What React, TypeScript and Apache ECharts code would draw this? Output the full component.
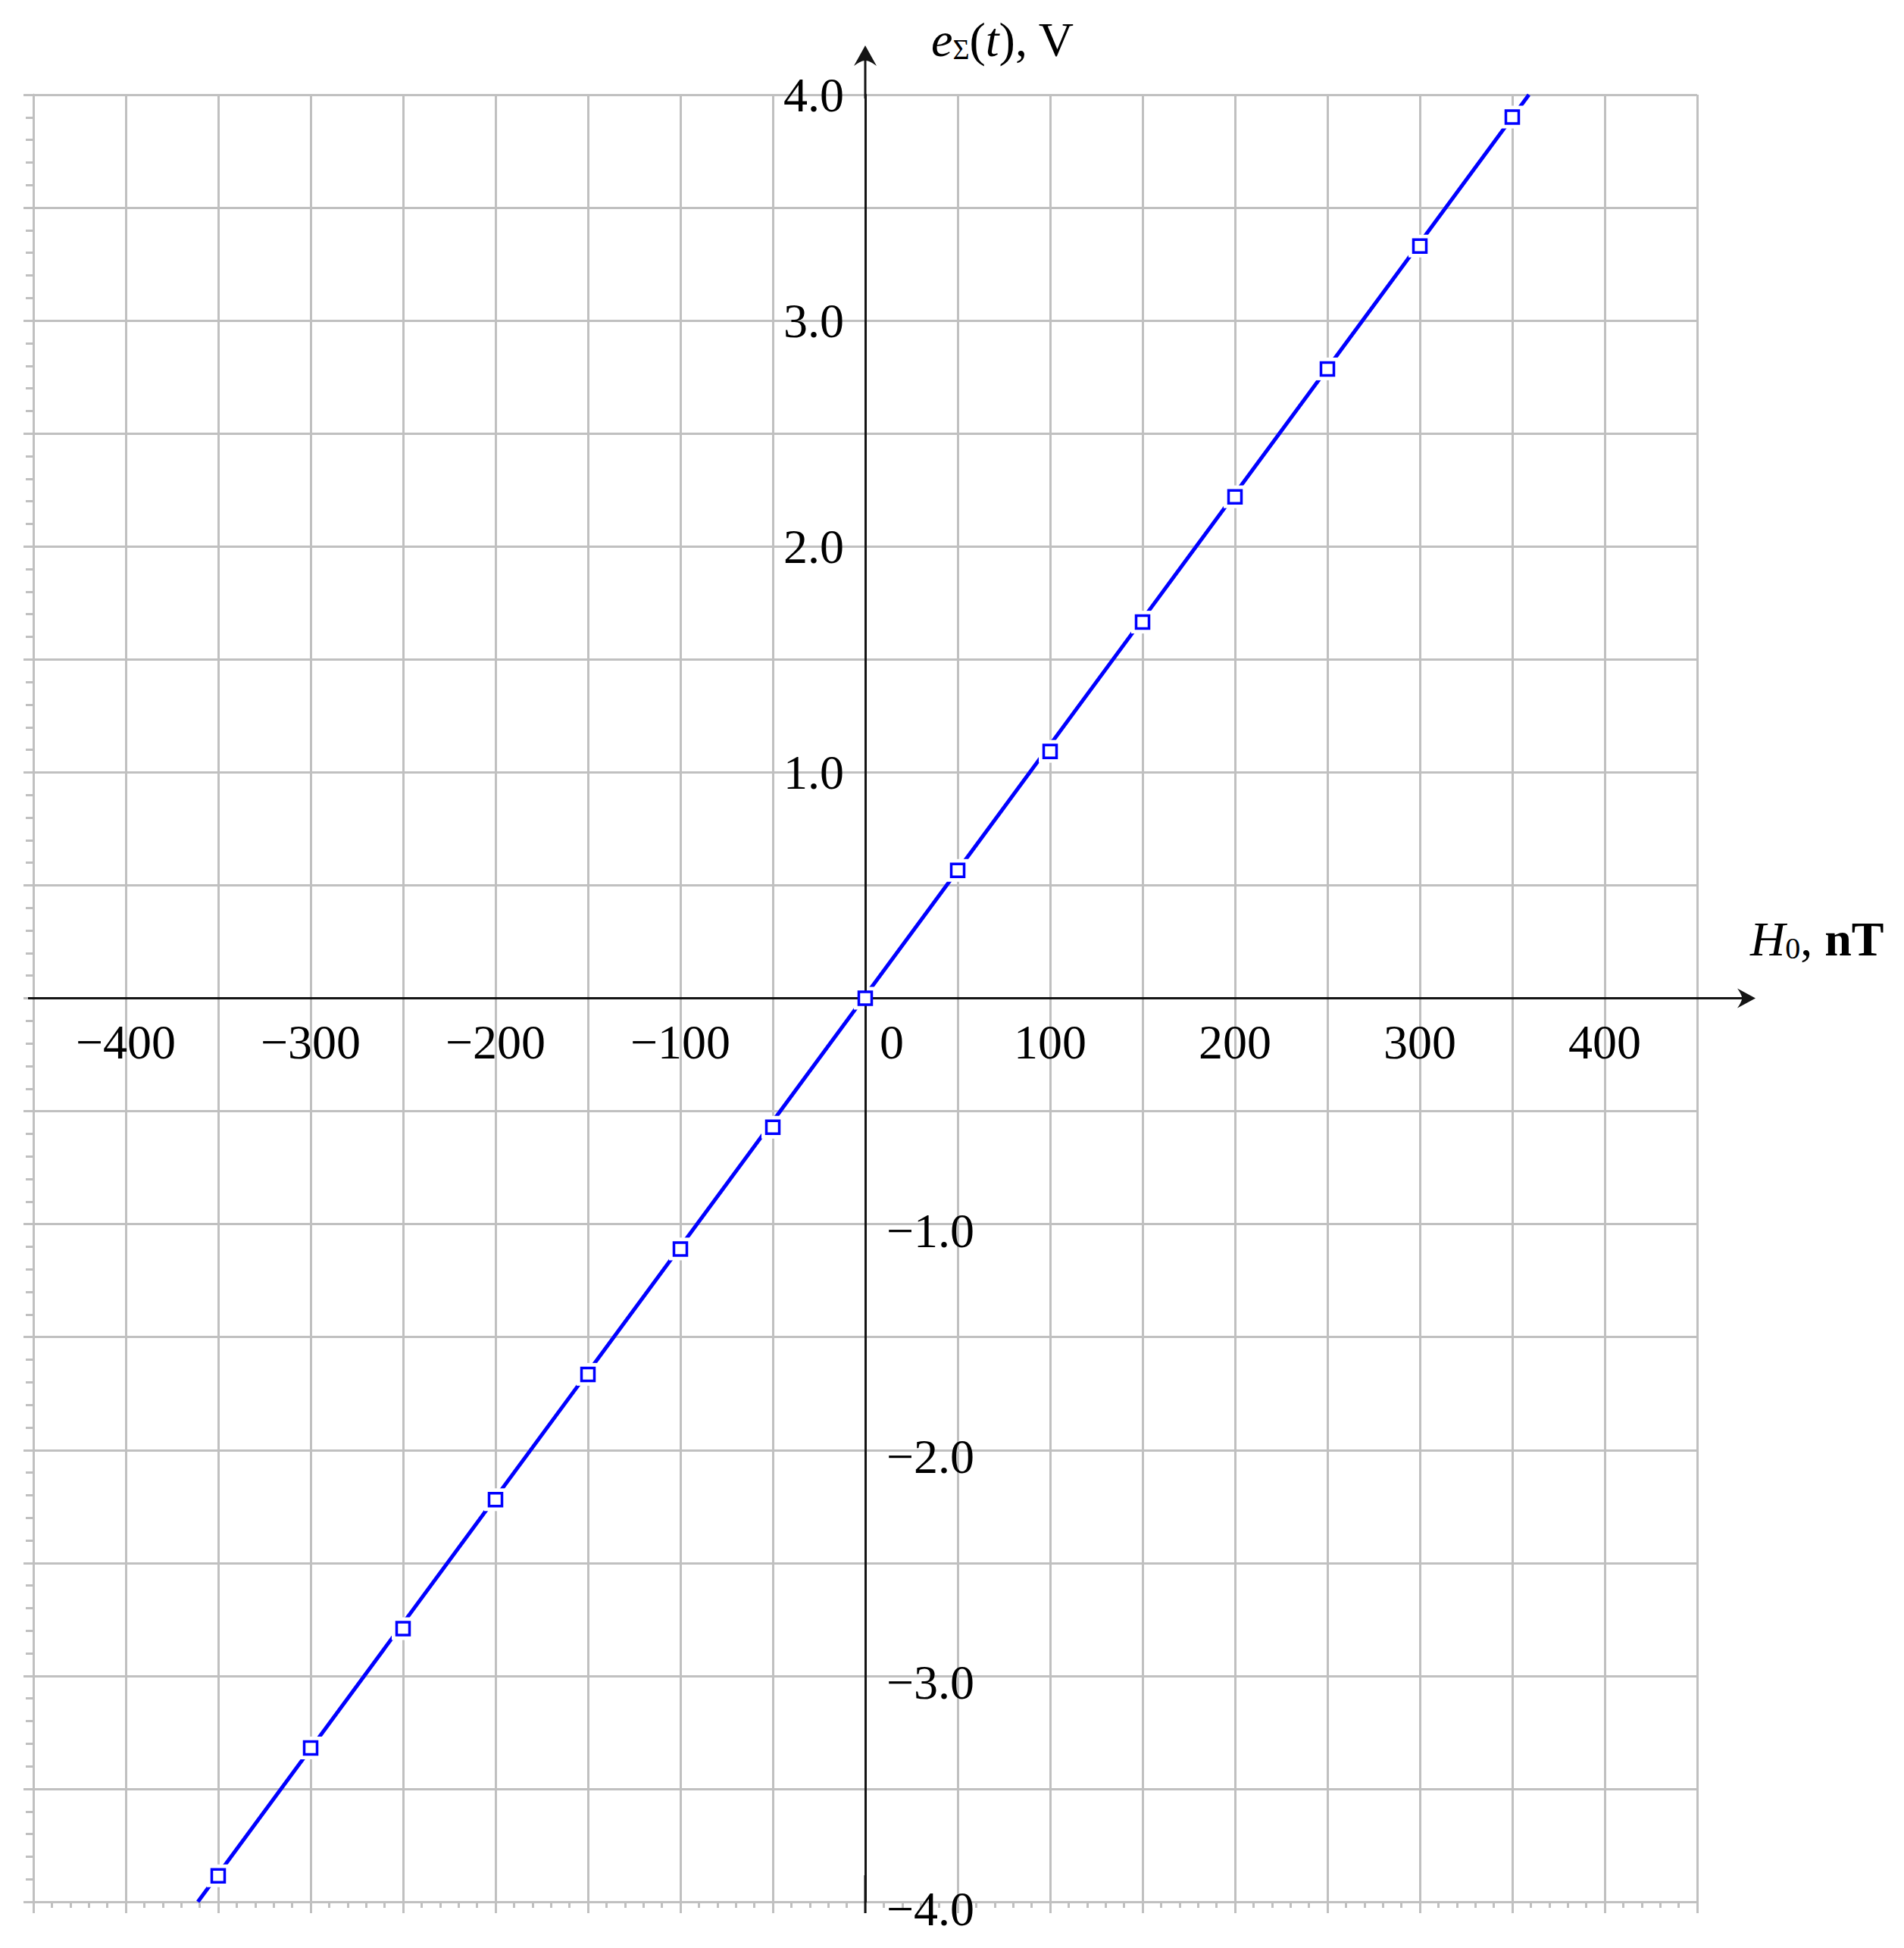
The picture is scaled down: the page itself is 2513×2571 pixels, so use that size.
import React, { useEffect, useRef } from 'react';
import * as echarts from 'echarts';

// ---- data ----
const fieldNT = [-350, -300, -250, -200, -150, -100, -50, 0, 50, 100, 150, 200, 250, 300, 350];
const emfV = [-3.885, -3.319, -2.791, -2.22, -1.665, -1.11, -0.571, 0, 0.566, 1.093, 1.665, 2.22, 2.786, 3.33, 3.901];
const fitLineX = [-361, 359];
const fitLineY = [-4.0, 4.0];

const xLabeled = [-400, -300, -200, -100, 0, 100, 200, 300, 400];
const yLabeled = [-4, -3, -2, -1, 1, 2, 3, 4];

const X_MIN = -450;
const X_MAX = 450;
const Y_MIN = -4;
const Y_MAX = 4;

const GRAY = '#c0c0c0';
const BLACK = '#141414';
const BLUE = '#0000ff';
const FONT = '"Liberation Serif", "Times New Roman", serif';
const FS = 64;

const W = 2513;
const H = 2571;
const G_LEFT = 44;
const G_RIGHT = 273;
const G_TOP = 125;
const G_BOTTOM = 61;

const minus = (s: string) => s.replace('-', '\u2212');

// arrow paths (tip pointing "outward"), bounding boxes match symbolSize
const yEnd = 'path://M15 0 L30 27 Q22 21 16.5 20 L16.5 70 L13.5 70 L13.5 20 Q8 21 0 27 Z';
const yStart = 'path://M0 0 M30 70 M13.5 20 L16.5 20 L16.5 70 L13.5 70 Z';
const xEnd = 'path://M13 0 L26 24 Q19 19 14.5 18 L14.5 82 L11.5 82 L11.5 18 Q7 19 0 24 Z';
const xStart = 'path://M0 0 M26 82 M11.5 34 L14.5 34 L14.5 82 L11.5 82 Z';

export default function App() {
  const ref = useRef<HTMLDivElement>(null);
  useEffect(() => {
    document.body.style.margin = '0';
    const chart = echarts.init(ref.current!, null, { renderer: 'svg' });
    const points = fieldNT.map((x, i) => [x, emfV[i]]);
    const fit = fitLineX.map((x, i) => [x, fitLineY[i]]);
    const grayLine = { color: GRAY, width: 3 };

    // place the black axes at the zero of the other axis (layout offsets)
    const plotW = W - G_LEFT - G_RIGHT;
    const plotH = H - G_TOP - G_BOTTOM;
    const yAxisOffset = -((0 - X_MIN) / (X_MAX - X_MIN)) * plotW;
    const xAxisOffset = -((0 - Y_MIN) / (Y_MAX - Y_MIN)) * plotH;

    const option: any = {
      animation: false,
      backgroundColor: '#ffffff',
      grid: { left: G_LEFT, right: G_RIGHT, top: G_TOP, bottom: G_BOTTOM, containLabel: false, outerBoundsMode: 'none' },
      xAxis: [
        {
          type: 'value', min: X_MIN, max: X_MAX, interval: 50, position: 'bottom', z: 0,
          axisLine: { show: true, onZero: false, lineStyle: grayLine },
          axisTick: { show: true, length: 15, lineStyle: grayLine },
          minorTick: { show: true, splitNumber: 5, length: 8, lineStyle: grayLine },
          splitLine: { show: true, lineStyle: grayLine },
          minorSplitLine: { show: false },
          axisLabel: { show: false },
        },
        {
          type: 'value', min: X_MIN, max: X_MAX, interval: 50, position: 'bottom', z: 3,
          offset: xAxisOffset,
          axisLine: {
            show: true, onZero: false,
            symbol: [xStart, xEnd], symbolSize: [26, 82], symbolOffset: [0, 36],
            lineStyle: { color: BLACK, width: 3 },
          },
          axisTick: { show: false },
          splitLine: { show: false },
          axisLabel: {
            show: true, margin: 26, fontSize: FS, fontFamily: FONT, color: '#000',
            showMinLabel: true, showMaxLabel: true,
            formatter: (v: number) => {
              if (!xLabeled.includes(v)) return '';
              if (v === 0) return '{z|0}';
              return minus(String(v));
            },
            rich: { z: { fontSize: FS, fontFamily: FONT, color: '#000', padding: [0, 0, 0, 70] } },
          },
        },
      ],
      yAxis: [
        {
          type: 'value', min: Y_MIN, max: Y_MAX, interval: 0.5, position: 'left', z: 0,
          axisLine: { show: true, onZero: false, lineStyle: grayLine },
          axisTick: { show: true, length: 13, lineStyle: grayLine },
          minorTick: { show: true, splitNumber: 5, length: 10, lineStyle: grayLine },
          splitLine: { show: true, lineStyle: grayLine },
          minorSplitLine: { show: false },
          axisLabel: { show: false },
        },
        {
          type: 'value', min: Y_MIN, max: Y_MAX, interval: 1, position: 'left', z: 3,
          offset: yAxisOffset,
          axisLine: {
            show: true, onZero: false,
            symbol: [yStart, yEnd], symbolSize: [30, 70], symbolOffset: [0, 30],
            lineStyle: { color: BLACK, width: 3 },
          },
          axisTick: { show: false },
          splitLine: { show: false },
          axisLabel: {
            show: true, margin: 28, fontSize: FS, fontFamily: FONT, color: '#000',
            showMinLabel: true, showMaxLabel: true,
            formatter: (v: number) => (v > 0 && yLabeled.includes(v) ? v.toFixed(1) : ''),
          },
        },
        {
          type: 'value', min: Y_MIN, max: Y_MAX, interval: 1, position: 'left', z: 3,
          offset: yAxisOffset,
          axisLine: { show: false, onZero: false },
          axisTick: { show: false },
          splitLine: { show: false },
          axisLabel: {
            show: true, inside: true, margin: 28, fontSize: FS, fontFamily: FONT, color: '#000',
            showMinLabel: true, showMaxLabel: true,
            formatter: (v: number) => (v < 0 && yLabeled.includes(v) ? '{n|' + minus(v.toFixed(1)) + '}' : ''),
            rich: { n: { fontSize: FS, fontFamily: FONT, color: '#000', padding: [18, 0, 0, 0] } },
          },
        },
      ],
      graphic: [
        {
          type: 'text', left: 1229, top: 20, z: 10,
          style: {
            text: '{i|e}{s|\u03A3}{r|(}{i|t}{r|), V}',
            rich: {
              i: { fontFamily: FONT, fontStyle: 'italic', fontSize: FS, lineHeight: 72, verticalAlign: 'bottom', fill: '#000' },
              r: { fontFamily: FONT, fontSize: FS, lineHeight: 72, verticalAlign: 'bottom', fill: '#000' },
              s: { fontFamily: FONT, fontSize: 38, lineHeight: 34, verticalAlign: 'bottom', fill: '#000' },
            },
          },
        },
        {
          type: 'text', left: 2310, top: 1207, z: 10,
          style: {
            text: '{i|H}{s|0}{r|, }{b|nT}',
            rich: {
              i: { fontFamily: FONT, fontStyle: 'italic', fontSize: FS, lineHeight: 72, verticalAlign: 'bottom', fill: '#000' },
              r: { fontFamily: FONT, fontSize: FS, lineHeight: 72, verticalAlign: 'bottom', fill: '#000' },
              b: { fontFamily: FONT, fontWeight: 'bold', fontSize: FS, lineHeight: 72, verticalAlign: 'bottom', fill: '#000' },
              s: { fontFamily: FONT, fontSize: 40, lineHeight: 56, verticalAlign: 'bottom', fill: '#000' },
            },
          },
        },
      ],
      series: [
        {
          type: 'line', data: fit, xAxisIndex: 0, yAxisIndex: 0, z: 1,
          showSymbol: false, symbol: 'none', silent: true, clip: true,
          lineStyle: { color: BLUE, width: 5 },
        },
        {
          type: 'scatter', data: points, xAxisIndex: 0, yAxisIndex: 0, z: 2,
          symbol: 'rect', symbolSize: 30, silent: true,
          itemStyle: { color: '#ffffff', opacity: 1 },
        },
        {
          type: 'scatter', data: points, xAxisIndex: 0, yAxisIndex: 0, z: 4,
          symbol: 'rect', symbolSize: 17, silent: true,
          itemStyle: { color: '#ffffff', borderColor: BLUE, borderWidth: 3.5, opacity: 1 },
        },
      ],
    };
    chart.setOption(option);
    return () => chart.dispose();
  }, []);
  return <div ref={ref} style={{ width: W, height: H }} />;
}
